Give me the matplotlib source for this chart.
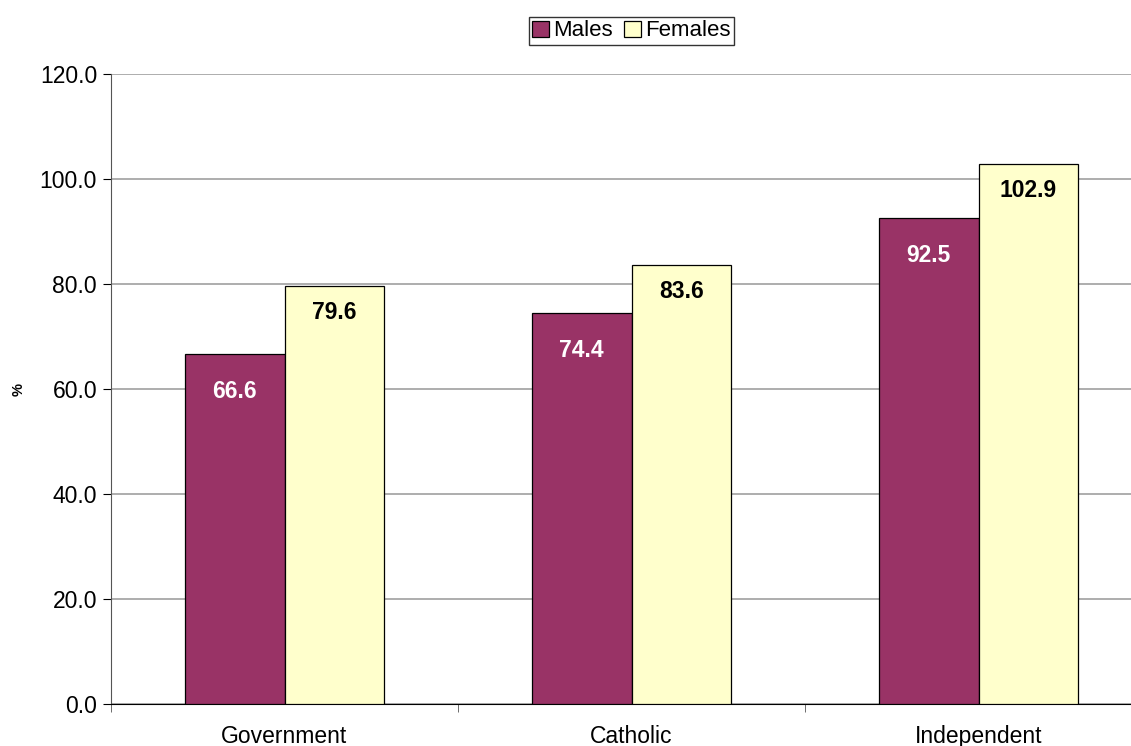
import matplotlib
matplotlib.use("Agg")
import matplotlib.pyplot as plt
import numpy as np

plt.rcParams['font.family'] = ['Liberation Sans', 'DejaVu Sans']

categories = ["Government", "Catholic", "Independent"]
males = [66.6, 74.4, 92.5]
females = [79.6, 83.6, 102.9]
series_names = ["Males", "Females"]
yticks = [0, 20, 40, 60, 80, 100, 120]

fig = plt.figure(figsize=(11.31, 7.46), dpi=100)
ax = fig.add_axes([111/1131, 1-704/746, (1152-111)/1131, (704-74)/746])

x = np.arange(len(categories))
w = 0.287
b1 = ax.bar(x - w/2, males, w, color='#993366', edgecolor='black', linewidth=0.9, label=series_names[0], zorder=3)
b2 = ax.bar(x + w/2, females, w, color='#FFFFCC', edgecolor='black', linewidth=0.9, label=series_names[1], zorder=3)

for rect, v in zip(b1, males):
    ax.annotate(f"{v:.1f}", (rect.get_x() + rect.get_width()/2, v), xytext=(0, -27),
                textcoords='offset points', ha='center', va='center', color='white',
                fontsize=16.5, fontweight='bold', zorder=4)
for rect, v in zip(b2, females):
    ax.annotate(f"{v:.1f}", (rect.get_x() + rect.get_width()/2, v), xytext=(0, -19),
                textcoords='offset points', ha='center', va='center', color='black',
                fontsize=16.5, fontweight='bold', zorder=4)

ax.set_xlim(-0.5, len(categories) - 0.5)
ax.set_ylim(0, 120)
ax.set_yticks(yticks)
ax.set_yticklabels([f"{t:.1f}" for t in yticks], fontsize=16.5)
ax.set_xticks(x)
ax.set_xticklabels(categories, fontsize=16.5)
ax.tick_params(axis='x', which='major', length=0, pad=15)
ax.set_xticks(np.arange(len(categories) + 1) - 0.5, minor=True)
ax.tick_params(axis='x', which='minor', length=6, direction='out', color='#555555')
ax.tick_params(axis='y', length=6, direction='out', pad=4)
ax.yaxis.grid(True, color='#A0A0A0', linewidth=1.2, zorder=0)
ax.set_axisbelow(True)
for s in ['top', 'right']:
    ax.spines[s].set_visible(False)
ax.spines['left'].set_color('#555555')
ax.spines['bottom'].set_color('black')
ax.set_ylabel('%', fontsize=10.5, fontweight='bold')
ax.yaxis.set_label_coords((26-111)/1041, (704-389)/630)

leg = fig.legend(handles=[b1, b2], labels=series_names, loc='center', bbox_to_anchor=(631.5/1131, 1-31/746),
                 ncol=2, fontsize=16, frameon=True, fancybox=False, edgecolor='black',
                 handlelength=0.75, handleheight=0.75, handletextpad=0.2, columnspacing=0.5,
                 borderpad=0.15, borderaxespad=0)
leg.get_frame().set_linewidth(1.0)

fig.savefig('out.png', dpi=100)
